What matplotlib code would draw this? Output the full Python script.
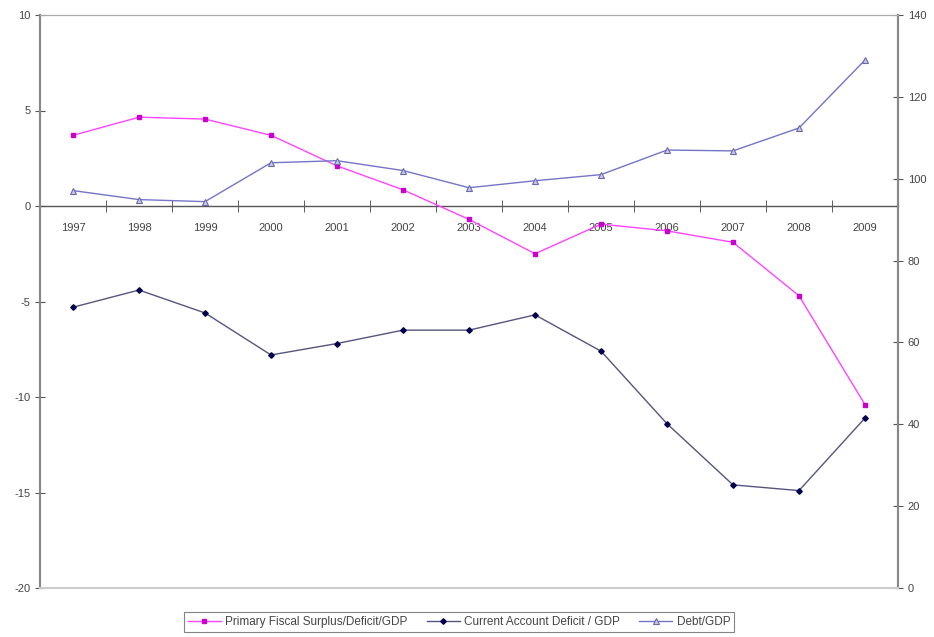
import numpy as np
import matplotlib
matplotlib.use("Agg")
import matplotlib.pyplot as plt
from matplotlib.ticker import FixedLocator, NullFormatter

# 数据
years = ["1997", "1998", "1999", "2000", "2001", "2002", "2003",
         "2004", "2005", "2006", "2007", "2008", "2009"]
fiscal = [3.7, 4.65, 4.55, 3.7, 2.1, 0.85, -0.7, -2.5, -0.95, -1.3, -1.9, -4.7, -10.4]
current_account = [-5.3, -4.4, -5.6, -7.8, -7.2, -6.5, -6.5, -5.7, -7.6, -11.4, -14.6, -14.9, -11.1]
debt = [97.1, 94.9, 94.4, 103.9, 104.4, 102.0, 97.8, 99.5, 101.0, 107.0, 106.8, 112.4, 129.0]

left_ticks = [-20, -15, -10, -5, 0, 5, 10]
right_ticks = [0, 20, 40, 60, 80, 100, 120, 140]

plt.rcParams['font.family'] = ['Liberation Sans', 'DejaVu Sans']
txt = '#444444'

fig = plt.figure(figsize=(9.34, 6.37), dpi=100)
ax = fig.add_axes([40 / 934, 1 - 588 / 637, 858 / 934, 573 / 637])
ax2 = ax.twinx()

x = np.arange(len(years))

# 左轴两条线
ax.plot(x, fiscal, color='#FF44FF', lw=1.0, marker='s', ms=3.0,
        mfc='#CC00CC', mec='#CC00CC', label='Primary Fiscal Surplus/Deficit/GDP', zorder=3)
ax.plot(x, current_account, color='#55557f', lw=1.0, marker='D', ms=2.8,
        mfc='#000050', mec='#000050', label='Current Account Deficit / GDP', zorder=3)
# 右轴
ax2.plot(x, debt, color='#7474C8', lw=1.0, marker='^', ms=4.0,
         mfc='#c8c8ee', mec='#6a6aa8', mew=0.8, label='Debt/GDP', zorder=3)

ax.set_xlim(-0.5, len(years) - 0.5)
ax.set_ylim(-20, 10)
ax2.set_ylim(0, 140)

ax.set_yticks(left_ticks)
ax.set_yticklabels([str(t) for t in left_ticks])
ax2.set_yticks(right_ticks)
ax2.set_yticklabels([str(t) for t in right_ticks])

# x 轴在 0 处，刻度在类别边界
ax.spines['bottom'].set_position(('data', 0))
ax.spines['bottom'].set_color('#555555')
ax.spines['bottom'].set_linewidth(1.0)
ax.xaxis.set_major_locator(FixedLocator(x))
ax.set_xticklabels(years)
ax.xaxis.set_minor_locator(FixedLocator(np.arange(-0.5, len(years), 1.0)))
ax.xaxis.set_minor_formatter(NullFormatter())
ax.tick_params(axis='x', which='major', length=0, pad=12, labelsize=8, colors=txt)
ax.tick_params(axis='x', which='minor', length=8, direction='inout', color='#444444')

ax.tick_params(axis='y', direction='inout', length=7, labelsize=8, colors=txt, color='#555555')
ax2.tick_params(axis='y', direction='inout', length=7, labelsize=8, colors=txt, color='#555555')

for a in (ax, ax2):
    a.spines['top'].set_color('#aaaaaa')
    a.spines['left'].set_color('#888888')
    a.spines['right'].set_color('#888888')
    a.spines['left'].set_linewidth(1.5)
    a.spines['right'].set_linewidth(1.5)
ax2.spines['bottom'].set_color('#cccccc')
ax2.spines['bottom'].set_linewidth(1.5)
ax2.spines['bottom'].set_position(('outward', 0))

h1, l1 = ax.get_legend_handles_labels()
h2, l2 = ax2.get_legend_handles_labels()
leg = fig.legend(h1 + h2, l1 + l2, loc='center', bbox_to_anchor=(459 / 934, 1 - 622 / 637),
                 ncol=3, fontsize=8.5, frameon=True, fancybox=False, handlelength=2.8,
                 columnspacing=1.6, handletextpad=0.4, borderpad=0.3)
leg.get_frame().set_edgecolor('#666666')
leg.get_frame().set_linewidth(0.8)
for t in leg.get_texts():
    t.set_color(txt)

fig.savefig("out.png", dpi=100)
